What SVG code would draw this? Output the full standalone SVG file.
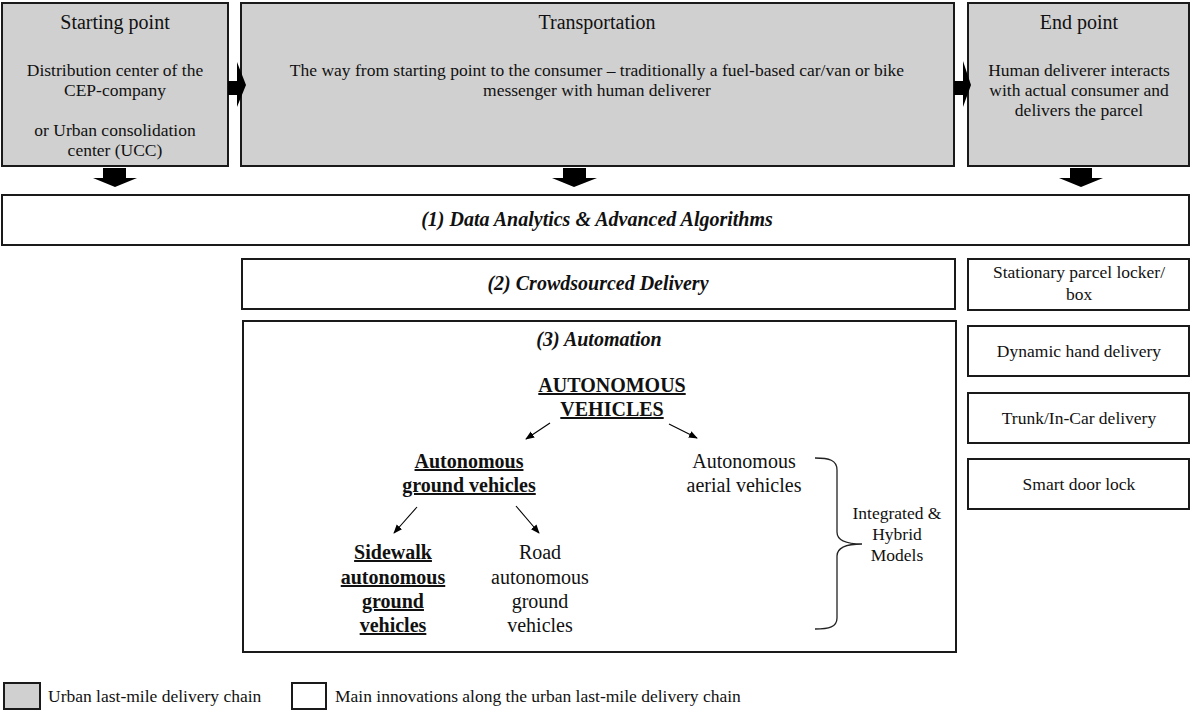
<svg xmlns="http://www.w3.org/2000/svg" width="1192" height="710" viewBox="0 0 1192 710">
  <defs>
    <style>
      text { font-family: "Liberation Serif", "Times New Roman", serif; fill: #111; }
      .chain { fill: #d0d0d0; stroke: #1a1a1a; stroke-width: 2; }
      .innov { fill: #ffffff; stroke: #1a1a1a; stroke-width: 2; }
      .title { font-size: 20px; text-anchor: middle; }
      .body { font-size: 17.5px; text-anchor: middle; }
      .head { font-size: 20px; font-weight: bold; font-style: italic; text-anchor: middle; }
      .bu { font-size: 20px; font-weight: bold; text-anchor: middle; text-decoration: underline; }
      .reg { font-size: 20px; text-anchor: middle; }
      .block { fill: #000; }
      .thin { stroke: #000; stroke-width: 1.1; fill: none; marker-end: url(#tip); }
      .brace { stroke: #222; stroke-width: 1.3; fill: none; }
      .legend { font-size: 17.5px; }
    </style>
    <marker id="tip" viewBox="0 0 10 10" refX="9" refY="5" markerWidth="9" markerHeight="9" markerUnits="userSpaceOnUse" orient="auto">
      <path d="M0,1 L10,5 L0,9 Z" fill="#000"/>
    </marker>
  </defs>

  <!-- delivery chain stages -->
  <g id="starting-point">
    <rect class="chain" x="2" y="3" width="226" height="163"/>
    <text class="title" x="115" y="29">Starting point</text>
    <text class="body" x="115" y="76">Distribution center of the</text>
    <text class="body" x="115" y="96">CEP-company</text>
    <text class="body" x="115" y="136">or Urban consolidation</text>
    <text class="body" x="115" y="156">center (UCC)</text>
  </g>

  <g id="transportation">
    <rect class="chain" x="241" y="3" width="713" height="163"/>
    <text class="title" x="597" y="29">Transportation</text>
    <text class="body" x="597" y="76">The way from starting point to the consumer – traditionally a fuel-based car/van or bike</text>
    <text class="body" x="597" y="96">messenger with human deliverer</text>
  </g>

  <g id="end-point">
    <rect class="chain" x="968" y="3" width="221" height="163"/>
    <text class="title" x="1079" y="29">End point</text>
    <text class="body" x="1079" y="76">Human deliverer interacts</text>
    <text class="body" x="1079" y="96">with actual consumer and</text>
    <text class="body" x="1079" y="116">delivers the parcel</text>
  </g>

  <!-- innovations -->
  <g id="data-analytics">
    <rect class="innov" x="2" y="195" width="1187" height="50"/>
    <text class="head" x="597" y="226">(1) Data Analytics &amp; Advanced Algorithms</text>
  </g>

  <g id="crowdsourced">
    <rect class="innov" x="242" y="259" width="713" height="50"/>
    <text class="head" x="598" y="290">(2) Crowdsourced Delivery</text>
  </g>

  <g id="automation">
    <rect class="innov" x="243" y="321" width="713" height="331"/>
    <text class="head" x="599" y="346">(3) Automation</text>
  </g>

  <g id="autonomous-vehicles">
    <text class="bu" x="612" y="392">AUTONOMOUS</text>
    <text class="bu" x="612" y="416">VEHICLES</text>
  </g>

  <g id="ground-vehicles">
    <text class="bu" x="469" y="468">Autonomous</text>
    <text class="bu" x="469" y="492">ground vehicles</text>
  </g>

  <g id="aerial-vehicles">
    <text class="reg" x="744" y="468">Autonomous</text>
    <text class="reg" x="744" y="492">aerial vehicles</text>
  </g>

  <g id="sidewalk-vehicles">
    <text class="bu" x="393" y="559">Sidewalk</text>
    <text class="bu" x="393" y="584">autonomous</text>
    <text class="bu" x="393" y="608">ground</text>
    <text class="bu" x="393" y="632">vehicles</text>
  </g>

  <g id="road-vehicles">
    <text class="reg" x="540" y="559">Road</text>
    <text class="reg" x="540" y="584">autonomous</text>
    <text class="reg" x="540" y="608">ground</text>
    <text class="reg" x="540" y="632">vehicles</text>
  </g>

  <g id="hybrid-models">
    <path class="brace" d="M815,458 C829,458 837,460 837,470 L837,532 C837,540 845,544 862,544 C845,544 837,548 837,556 L837,618 C837,627 829,629 815,629"/>
    <text class="body" x="897" y="519">Integrated &amp;</text>
    <text class="body" x="897" y="540">Hybrid</text>
    <text class="body" x="897" y="561">Models</text>
  </g>

  <g id="parcel-locker">
    <rect class="innov" x="968" y="259" width="221" height="51"/>
    <text class="body" x="1079" y="278">Stationary parcel locker/</text>
    <text class="body" x="1079" y="300">box</text>
  </g>

  <g id="hand-delivery">
    <rect class="innov" x="968" y="326" width="221" height="50"/>
    <text class="body" x="1079" y="357">Dynamic hand delivery</text>
  </g>

  <g id="trunk-delivery">
    <rect class="innov" x="968" y="393" width="221" height="50"/>
    <text class="body" x="1079" y="424">Trunk/In-Car delivery</text>
  </g>

  <g id="smart-lock">
    <rect class="innov" x="968" y="459" width="221" height="50"/>
    <text class="body" x="1079" y="490">Smart door lock</text>
  </g>

  <!-- connectors -->
  <g id="connectors">
    <polygon class="block" points="228,81 237,81 237,62 246,85 237,107 237,95 228,95"/>
    <polygon class="block" points="954,81 963,81 963,61 971,85 963,107 963,95 954,95"/>
    <polygon class="block" points="103,168 126,168 126,178 137,178 115,187 93,178 103,178"/>
    <polygon class="block" points="563,168 586,168 586,178 597,178 574,187 552,178 563,178"/>
    <polygon class="block" points="1070,168 1092,168 1092,178 1103,178 1081,187 1059,178 1070,178"/>
    <line class="thin" x1="550" y1="423" x2="526" y2="439"/>
    <line class="thin" x1="669" y1="424" x2="697" y2="438"/>
    <line class="thin" x1="417" y1="507" x2="394" y2="533"/>
    <line class="thin" x1="516" y1="506" x2="539" y2="533"/>
  </g>

  <!-- legend -->
  <g id="legend">
    <rect class="chain" x="4" y="683" width="36" height="26"/>
    <text class="legend" x="48" y="702">Urban last-mile delivery chain</text>
    <rect class="innov" x="292" y="683" width="34" height="26"/>
    <text class="legend" x="335" y="702">Main innovations along the urban last-mile delivery chain</text>
  </g>
</svg>
